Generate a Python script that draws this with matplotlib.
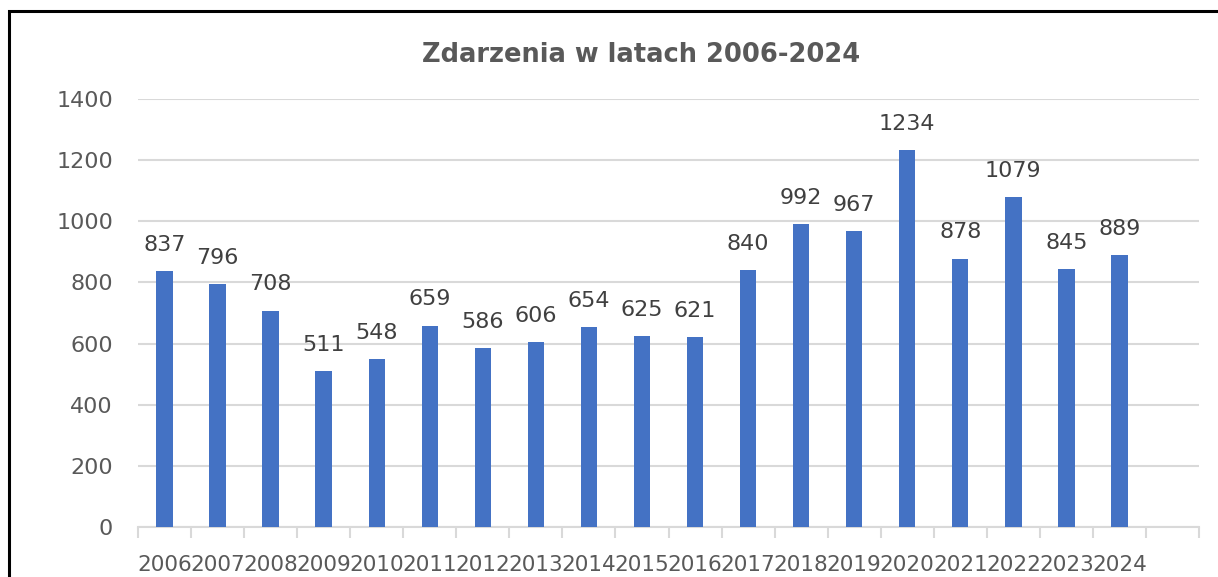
import matplotlib.pyplot as plt
import numpy as np
from matplotlib.patches import Rectangle

years = [str(y) for y in range(2006, 2025)] + [""]
values = [837, 796, 708, 511, 548, 659, 586, 606, 654, 625, 621,
          840, 992, 967, 1234, 878, 1079, 845, 889]
y_ticks = [0, 200, 400, 600, 800, 1000, 1200, 1400]

W, H = 1218, 577
text_gray = "#595959"
grid_gray = "#d9d9d9"
bar_blue = "#4472C4"

fig = plt.figure(figsize=(W / 100, H / 100), dpi=100)
ax = fig.add_axes([138 / W, 50 / H, (1199 - 138) / W, (527 - 99) / H])

x = np.arange(len(years))
ax.bar(x[: len(values)], values, width=0.31, color=bar_blue, zorder=3)

for xi, v in zip(x, values):
    ax.annotate(str(v), (xi, v), xytext=(0, 14.5), textcoords="offset points",
                ha="center", va="baseline", fontsize=16, color="#404040")

ax.set_xlim(-0.5, len(years) - 0.5)
ax.set_ylim(0, 1400)
ax.set_yticks(y_ticks)
ax.set_xticks(x)
ax.set_xticklabels(years)
ax.set_xticks(np.arange(-0.5, len(years)), minor=True)
ax.tick_params(axis="x", which="major", length=0, pad=20, labelsize=15.5,
               labelcolor=text_gray)
ax.tick_params(axis="x", which="minor", length=8, width=1.5, color=grid_gray)
ax.tick_params(axis="y", length=0, pad=18, labelsize=16, labelcolor=text_gray)

ax.grid(axis="y", color=grid_gray, linewidth=1.5, zorder=0)
for side in ["top", "right", "left"]:
    ax.spines[side].set_visible(False)
ax.spines["bottom"].set_color(grid_gray)
ax.spines["bottom"].set_linewidth(1.5)

fig.text(641 / W, 1 - 55 / H, "Zdarzenia w latach 2006-2024", ha="center",
         va="center", fontsize=18.5, fontweight="bold", color=text_gray)

# outer chart frame, cut off at right and bottom like the screenshot
fig.patches.append(Rectangle((9 / W, -0.1), 1.2, 1 - 10.5 / H + 0.1,
                             transform=fig.transFigure, fill=False,
                             edgecolor="black", linewidth=2.2))

fig.savefig("out.png", dpi=100)
